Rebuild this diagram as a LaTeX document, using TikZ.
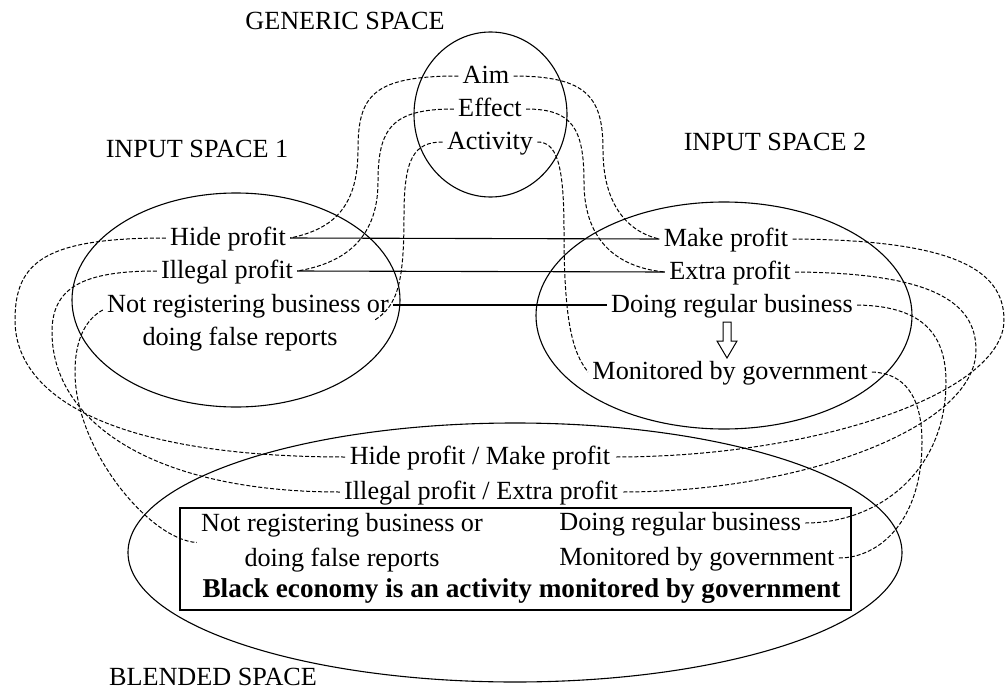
\documentclass[tikz,border=0pt]{standalone}
\usepackage{fontspec}
\setmainfont{Liberation Serif}
\usetikzlibrary{shapes.geometric,calc}
\begin{document}
\begin{tikzpicture}[x=0.5pt,y=-0.5pt,
  tf/.style={font=\fontsize{13.1}{17.5}\selectfont, inner xsep=2pt, inner ysep=1pt},
  txt/.style={tf, text height=0.85em, text depth=0.08em},
  space/.style={draw, ellipse, line width=0.55pt, inner sep=0pt},
  link/.style={line width=0.5pt, dash pattern=on 2pt off 1pt},
  match/.style={line width=0.55pt}]
\useasboundingbox (0,0) rectangle (1008,691);

% spaces
\node[space, minimum width=76.5pt, minimum height=82.5pt] (gen) at (490.5,114.5) {};
\node[space, minimum width=164pt, minimum height=107pt] (in1) at (236,300) {};
\node[space, minimum width=188pt, minimum height=113.5pt] (in2) at (724,315.5) {};
\node[space, minimum width=387pt, minimum height=129.5pt] (bl) at (515,552.5) {};
\node[draw, line width=0.55pt, minimum width=335.5pt, minimum height=51pt, inner sep=0pt] (box) at (515.5,559) {};

% titles
\node[txt] (tgen) at (345,22) {GENERIC SPACE};
\node[txt] (tin1) at (197,150) {INPUT SPACE 1};
\node[txt] (tin2) at (775,143) {INPUT SPACE 2};
\node[txt] (tbl) at (213,678) {BLENDED SPACE};

% generic space
\node[txt] (g1) at (486,76) {Aim};
\node[txt] (g2) at (490,109) {Effect};
\node[txt] (g3) at (490,142) {Activity};

% input space 1
\node[txt] (a1) at (228,238) {Hide profit};
\node[txt] (a2) at (227,271) {Illegal profit};
\node[txt] (a3) at (248,305) {Not registering business or};
\node[txt] (a4) at (240,338) {doing false reports};

% input space 2
\node[txt] (b1) at (726,239) {Make profit};
\node[txt] (b2) at (730,272) {Extra profit};
\node[txt] (b3) at (732,305) {Doing regular business};
\node[txt] (b4) at (730,372) {Monitored by government};
\coordinate (arr) at (727,322);
\draw[line width=0.5pt] (arr) ++(-4,0) -- ++(8,0) -- ++(0,19) -- ++(6,0) -- ++(-10,17) -- ++(-10,-17) -- ++(6,0) -- cycle;

% blended space
\node[txt] (c1) at (480,457) {Hide profit / Make profit};
\node[txt] (c2) at (481,492) {Illegal profit / Extra profit};
\node[tf, align=center] (c3) at (342,542.5) {Not registering business or\\doing false reports};
\node[txt, anchor=west] (c5) at (555,523) {Doing regular business};
\node[txt, anchor=west] (c6) at (555,558) {Monitored by government};
\node[txt, font=\fontsize{13.6}{17.5}\selectfont\bfseries] (c7) at (521.5,590) {Black economy is an activity monitored by government};

% cross-space matches
\draw[match] (a1.east) -- (b1.west);
\draw[match] (a2.east) -- (b2.west);
\draw[match] (a3.east) -- (b3.west);

% generic -> input 1
\draw[link] (g1.west) .. controls (372,76) and (358,96) .. (358,150)
  .. controls (358,212) and (328,230) .. (a1.east);
\draw[link] (g2.west) .. controls (392,109) and (378,128) .. (378,182)
  .. controls (378,242) and (340,264) .. (a2.east);
\draw[link] (g3.west) .. controls (414,142) and (404,158) .. (404,215)
  .. controls (404,282) and (398,306) .. ([xshift=-9.75pt,yshift=-2pt]a3.south east);

% generic -> input 2
\draw[link] (g1.east) .. controls (588,76) and (603,98) .. (603,150)
  .. controls (603,205) and (628,232) .. (b1.west);
\draw[link] (g2.east) .. controls (572,109) and (584,128) .. (584,182)
  .. controls (584,245) and (622,268) .. (b2.west);
\draw[link] (g3.east) .. controls (556,142) and (564,162) .. (564,230)
  .. controls (564,320) and (572,352) .. (b4.west);

% input 1 -> blend
\draw[link] (a1.west) .. controls (45,238) and (15,262) .. (15,320)
  .. controls (15,400) and (120,457) .. (c1.west);
\draw[link] (a2.west) .. controls (82,271) and (52,288) .. (52,332)
  .. controls (52,420) and (150,492) .. (c2.west);
\draw[link] ([yshift=-2.5pt]a3.west) .. controls (88,318) and (75,336) .. (75,372)
  .. controls (75,450) and (150,540) .. (c3.west);

% input 2 -> blend
\draw[link] (b1.east) .. controls (950,240) and (1004,268) .. (1004,320)
  .. controls (1004,392) and (820,457) .. (c1.east);
\draw[link] (b2.east) .. controls (928,273) and (976,300) .. (976,350)
  .. controls (976,428) and (800,492) .. (c2.east);
\draw[link] (b3.east) .. controls (918,306) and (946,330) .. (946,382)
  .. controls (946,470) and (880,523) .. (c5.east);
\draw[link] (b4.east) .. controls (904,373) and (922,396) .. (922,442)
  .. controls (922,520) and (880,558) .. (c6.east);
\end{tikzpicture}
\end{document}
